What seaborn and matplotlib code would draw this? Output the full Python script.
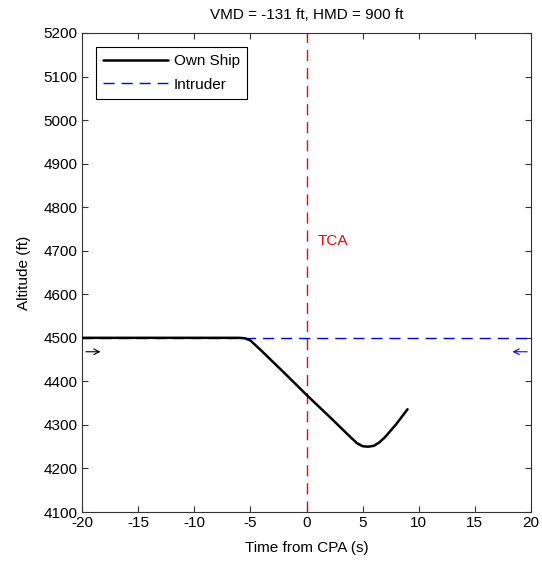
import matplotlib
matplotlib.use("Agg")
import matplotlib.pyplot as plt
import seaborn as sns
import pandas as pd
import numpy as np

sns.set_style("ticks")
plt.rcParams['font.family'] = ['Liberation Sans', 'DejaVu Sans']
plt.rcParams['axes.unicode_minus'] = False
plt.rcParams['text.color'] = 'black'
plt.rcParams['axes.labelcolor'] = 'black'
plt.rcParams['xtick.color'] = '#333333'
plt.rcParams['ytick.color'] = '#333333'
plt.rcParams['xtick.labelcolor'] = 'black'
plt.rcParams['ytick.labelcolor'] = 'black'

own_t = [-20, -6, -5.5, -5, -4, -2, 0, 2, 4, 4.5, 5, 5.5, 6, 6.5, 7, 8, 9]
own_alt = [4500, 4500, 4499, 4494, 4470, 4420, 4369, 4320, 4270, 4258, 4251, 4250, 4252, 4260, 4272, 4302, 4336]
intr_t = [-20, 20]
intr_alt = [4500, 4500]
tca_t = 0

own = pd.DataFrame({"t": own_t, "alt": own_alt})
intr = pd.DataFrame({"t": intr_t, "alt": intr_alt})

fig = plt.figure(figsize=(5.42, 5.66), dpi=100)
ax = fig.add_axes([0.1513, 0.0954, 0.8284, 0.8463])

dash = (0, (8, 5))
sns.lineplot(data=intr, x="t", y="alt", ax=ax, color="#0000ff", lw=1.0,
             linestyle=dash, label="Intruder", zorder=2)
sns.lineplot(data=own, x="t", y="alt", ax=ax, color="black", lw=1.8,
             label="Own Ship", zorder=3)
ax.axvline(tca_t, color="#ff0000", lw=1.0, linestyle=dash, zorder=1)
ax.text(1.0, 4722, "TCA", color="#ff0000", fontsize=11, va="center")

ax.annotate("", xy=(-18.1, 4468), xytext=(-19.9, 4468),
            arrowprops=dict(arrowstyle="->", color="black", lw=0.8))
ax.annotate("", xy=(18.1, 4468), xytext=(19.9, 4468),
            arrowprops=dict(arrowstyle="->", color="#0000ff", lw=0.8))

ax.set_xlim(-20, 20)
ax.set_ylim(4100, 5200)
ax.set_xticks(np.arange(-20, 21, 5))
ax.set_yticks(np.arange(4100, 5201, 100))
ax.tick_params(direction="in", top=True, right=True, labelsize=11, length=4, pad=3)
ax.set_xlabel("Time from CPA (s)", fontsize=11, labelpad=8)
ax.set_ylabel("Altitude (ft)", fontsize=11, labelpad=9)
ax.set_title("VMD = -131 ft, HMD = 900 ft", fontsize=11, pad=10)
for s in ax.spines.values():
    s.set_visible(True)
    s.set_linewidth(0.8)
    s.set_color('#333333')

h, l = ax.get_legend_handles_labels()
order = [l.index("Own Ship"), l.index("Intruder")]
leg = ax.legend([h[i] for i in order], [l[i] for i in order], loc="upper left",
                fancybox=False, edgecolor="black", fontsize=11, framealpha=1,
                handlelength=4.2, borderpad=0.5, labelspacing=0.6,
                handletextpad=0.4, borderaxespad=0.9)
leg.get_frame().set_linewidth(0.8)

fig.savefig("out.png", dpi=100)
